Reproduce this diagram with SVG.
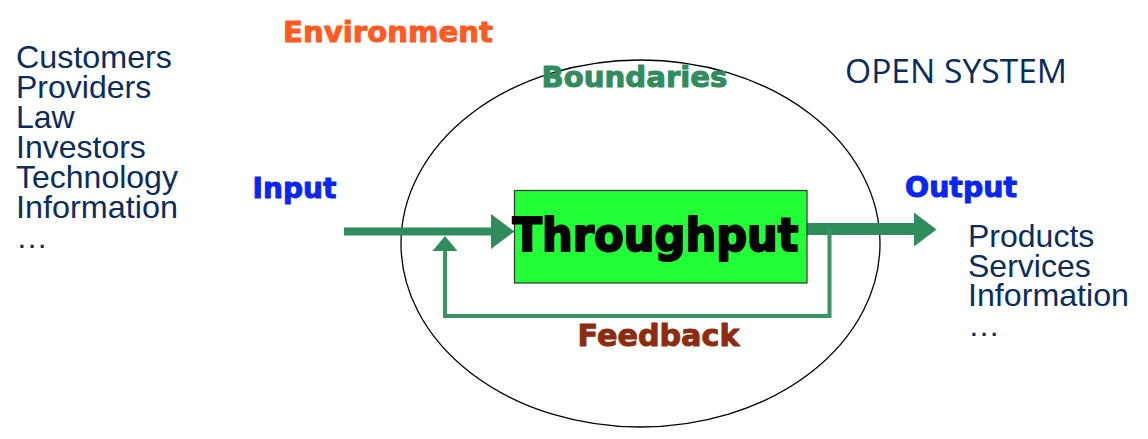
<svg xmlns="http://www.w3.org/2000/svg" width="1148" height="439" viewBox="0 0 1148 439">
<style>
.list{font-family:"Liberation Sans",Arial,sans-serif;font-size:32px;fill:#0b2d5c}
.bold{font-family:"DejaVu Sans",sans-serif;font-weight:bold;stroke-width:1;stroke-linejoin:round}
.conn{fill:#318c5d}
.fb{stroke:#379463;stroke-width:4;fill:none}
</style>
<rect width="1148" height="439" fill="#ffffff"/>
<g id="environment-list">
<text class="list" x="16" y="68" textLength="156" lengthAdjust="spacingAndGlyphs">Customers</text>
<text class="list" x="16" y="98">Providers</text>
<text class="list" x="16" y="128">Law</text>
<text class="list" x="16" y="158">Investors</text>
<text class="list" x="16" y="188">Technology</text>
<text class="list" x="16" y="218" textLength="162" lengthAdjust="spacingAndGlyphs">Information</text>
<text class="list" x="16" y="248">…</text>
</g>
<g id="environment-label">
<text class="bold" x="283" y="41.5" font-size="29" fill="#ff5a22" stroke="#ff5a22" textLength="210" lengthAdjust="spacingAndGlyphs">Environment</text>
</g>
<g id="boundaries">
<ellipse cx="640.5" cy="243.5" rx="239.5" ry="183.5" fill="none" stroke="#000" stroke-width="1.3"/>
<text class="bold" x="541.5" y="87" font-size="29" fill="#318c5d" stroke="#318c5d" textLength="186" lengthAdjust="spacingAndGlyphs">Boundaries</text>
</g>
<g id="open-system">
<text x="845" y="82.5" font-family="'Open Sans',sans-serif" font-size="32" fill="#0b2d5c" textLength="222" lengthAdjust="spacingAndGlyphs">OPEN SYSTEM</text>
</g>
<g id="input-label">
<text class="bold" x="252.5" y="198" font-size="28" fill="#0a26f2" stroke="#0a26f2" textLength="84" lengthAdjust="spacingAndGlyphs">Input</text>
</g>
<g id="output-label">
<text class="bold" x="905" y="197" font-size="28" fill="#0a26f2" stroke="#0a26f2" textLength="112" lengthAdjust="spacingAndGlyphs">Output</text>
</g>
<g id="connectors">
<rect class="conn" x="344" y="227.5" width="148" height="8"/>
<polygon class="conn" points="491,214 514.5,231.5 491,249"/>
<rect class="conn" x="806" y="223" width="109" height="12"/>
<polygon class="conn" points="914,212.5 936.5,229.5 914,246.5"/>
<polyline class="fb" points="829.5,229 829.5,316 445,316 445,250"/>
<polygon class="conn" points="432.5,251 445,236 457.5,251"/>
</g>
<g id="throughput">
<rect x="514.5" y="190.5" width="292.5" height="92.5" fill="#23ff37" stroke="#333" stroke-width="1.2"/>
<text class="bold" x="512.5" y="251" font-size="46" fill="#000" stroke="#000" style="stroke-width:2" textLength="286" lengthAdjust="spacingAndGlyphs">Throughput</text>
</g>
<g id="feedback-label">
<text class="bold" x="577.5" y="345.5" font-size="30" fill="#8d2c10" stroke="#8d2c10" textLength="162" lengthAdjust="spacingAndGlyphs">Feedback</text>
</g>
<g id="output-list">
<text class="list" x="968" y="247">Products</text>
<text class="list" x="968" y="276.5">Services</text>
<text class="list" x="968" y="306" textLength="161" lengthAdjust="spacingAndGlyphs">Information</text>
<text class="list" x="968" y="336">…</text>
</g>
</svg>
